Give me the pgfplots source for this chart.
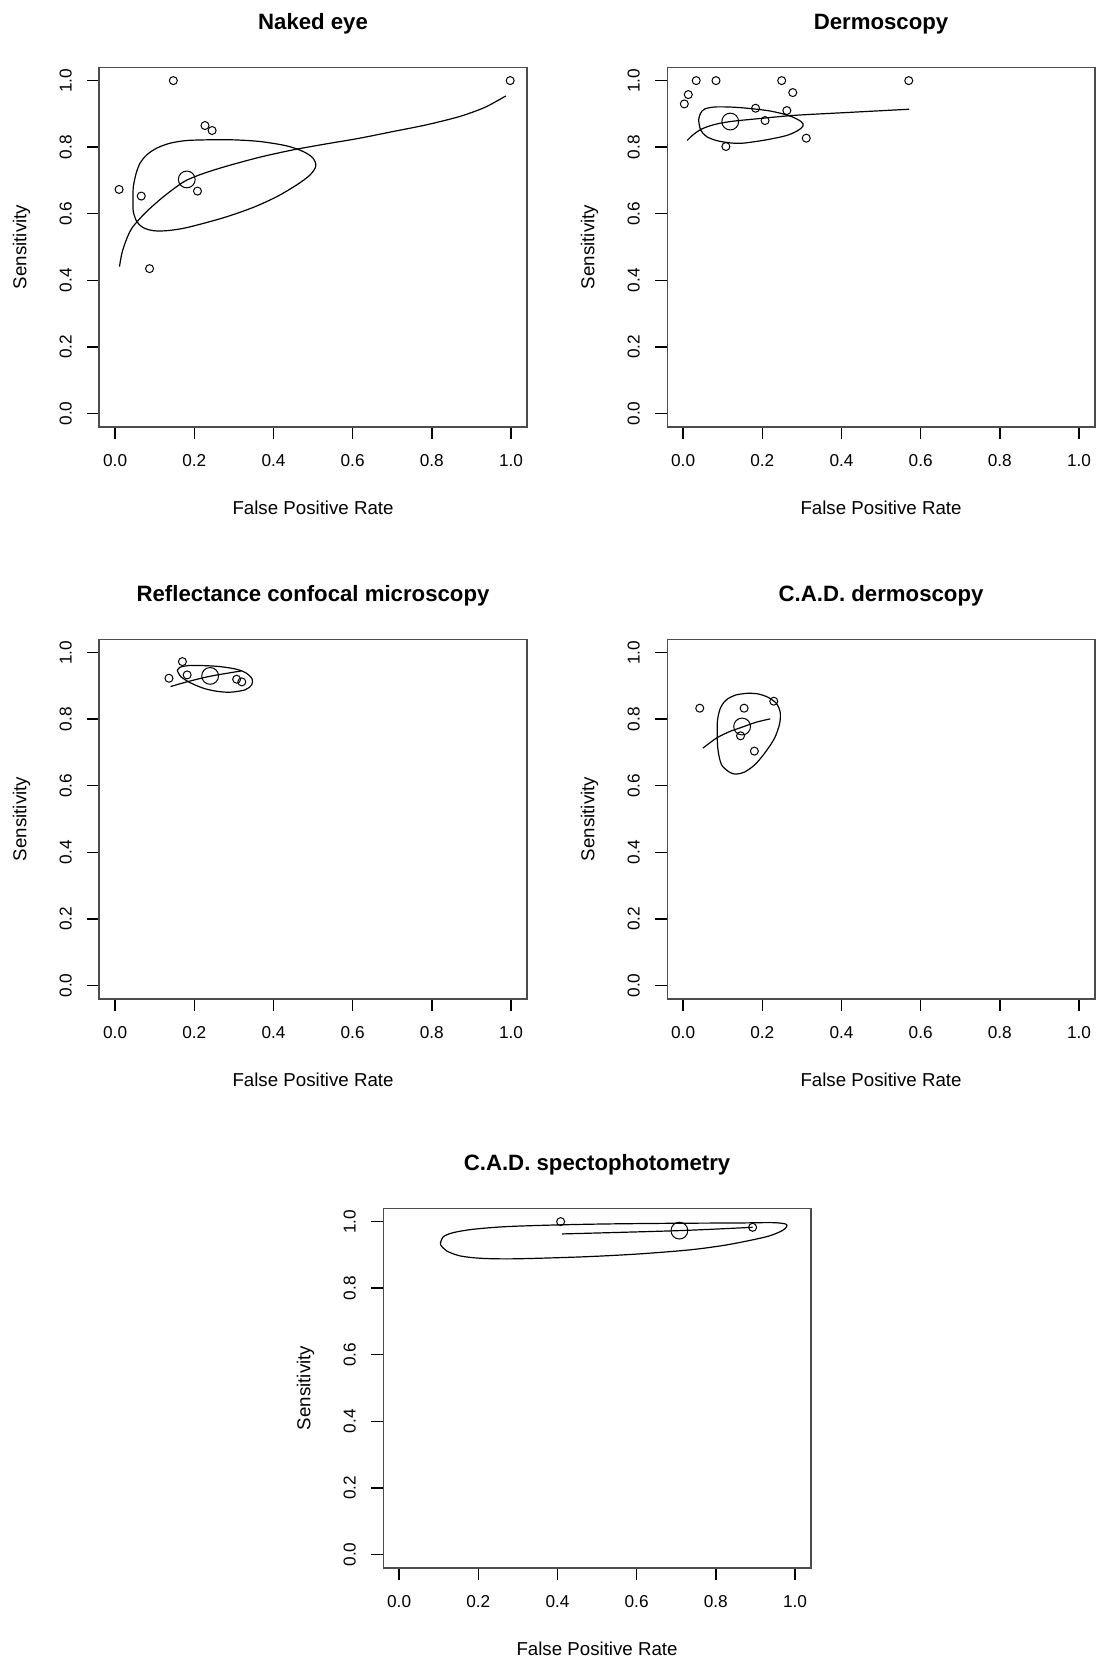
\documentclass[border=0pt]{standalone}
\usepackage{fontspec}
\setmainfont{Liberation Sans}
\usepackage{pgfplots}
\pgfplotsset{compat=1.18}

\pgfplotsset{
  rplot/.style={
    scale only axis, width=213.75pt, height=179.7pt,
    xmin=-0.04, xmax=1.04, ymin=-0.04, ymax=1.04,
    xtick={0,0.2,0.4,0.6,0.8,1}, ytick={0,0.2,0.4,0.6,0.8,1},
    xticklabels={0.0,0.2,0.4,0.6,0.8,1.0},
    yticklabels={0.0,0.2,0.4,0.6,0.8,1.0},
    tick pos=left, tick align=outside, major tick length=6pt,
    axis line style={line width=0.8pt, black!70},
    major tick style={line width=0.7pt, black},
    xticklabel style={font=\fontsize{8.6}{10}\selectfont, anchor=base, inner sep=0pt},
    yticklabel style={font=\fontsize{8.6}{10}\selectfont, rotate=90, anchor=base, inner sep=0pt},
    xticklabel shift=14pt, yticklabel shift=7.8pt,
    xlabel={False Positive Rate}, ylabel={Sensitivity},
    label style={font=\fontsize{9.35}{11}\selectfont, inner sep=0pt},
    xlabel style={at={(axis description cs:0.5,-0.2432)}, anchor=base},
    ylabel style={at={(axis description cs:-0.1708,0.5)}, anchor=base, rotate=0},
    title style={font=\fontsize{11.1}{13}\selectfont\bfseries, at={(axis description cs:0.5,1.0707)}, anchor=base, inner sep=0pt},
    clip=false,
  },
  study/.style={only marks, mark=o, mark size=2pt, mark options={line width=0.5pt, black}},
  summ/.style={only marks, mark=o, mark size=4.2pt, mark options={line width=0.5pt, black}},
  sroc/.style={no marks, smooth, line width=0.6pt, black},
  conf/.style={no marks, smooth, line width=0.6pt, black},
}

\begin{document}
\begin{tikzpicture}
\useasboundingbox (0,0) rectangle (549.5pt,-829.5pt);

% Panel 1: Naked eye
\begin{axis}[rplot, title={Naked eye}, at={(49.65pt,-33.65pt)}, anchor=north west]
\addplot[study] coordinates {(0.147,1.0)(0.998,1.0)(0.227,0.865)(0.245,0.850)(0.010,0.673)(0.066,0.653)(0.208,0.668)(0.087,0.435)};
\addplot[summ] coordinates {(0.181,0.703)};
\addplot[sroc] coordinates {(0.011,0.441)(0.017,0.481)(0.028,0.521)(0.042,0.556)(0.063,0.586)(0.088,0.616)(0.122,0.651)(0.155,0.681)(0.181,0.701)(0.223,0.721)(0.282,0.743)(0.366,0.770)(0.450,0.792)(0.534,0.810)(0.618,0.827)(0.702,0.847)(0.786,0.867)(0.870,0.892)(0.929,0.917)(0.962,0.937)(0.987,0.954)};
\addplot[conf] coordinates {(0.231,0.822)(0.181,0.820)(0.139,0.812)(0.105,0.797)(0.080,0.777)(0.063,0.752)(0.053,0.721)(0.046,0.681)(0.045,0.641)(0.046,0.606)(0.055,0.576)(0.071,0.558)(0.097,0.549)(0.130,0.549)(0.172,0.556)(0.223,0.571)(0.282,0.591)(0.349,0.619)(0.408,0.651)(0.458,0.686)(0.492,0.716)(0.507,0.743)(0.500,0.767)(0.475,0.787)(0.433,0.804)(0.366,0.817)(0.298,0.822)(0.231,0.822)};
\end{axis}

% Panel 2: Dermoscopy
\begin{axis}[rplot, title={Dermoscopy}, at={(333.65pt,-33.65pt)}, anchor=north west]
\addplot[study] coordinates {(0.003,0.930)(0.013,0.958)(0.033,1.0)(0.083,1.0)(0.249,1.0)(0.277,0.964)(0.183,0.917)(0.262,0.910)(0.207,0.880)(0.311,0.827)(0.108,0.802)(0.570,1.0)};
\addplot[summ] coordinates {(0.119,0.877)};
\addplot[sroc] coordinates {(0.010,0.820)(0.025,0.837)(0.046,0.854)(0.076,0.867)(0.119,0.877)(0.202,0.887)(0.286,0.896)(0.412,0.904)(0.571,0.914)};
\addplot[conf] coordinates {(0.039,0.882)(0.044,0.902)(0.055,0.915)(0.084,0.921)(0.143,0.919)(0.218,0.909)(0.269,0.894)(0.298,0.877)(0.303,0.864)(0.290,0.850)(0.261,0.835)(0.210,0.822)(0.151,0.812)(0.118,0.813)(0.084,0.820)(0.059,0.832)(0.044,0.852)(0.039,0.882)};
\end{axis}

% Panel 3: Reflectance confocal microscopy
\begin{axis}[rplot, title={Reflectance confocal microscopy}, at={(49.65pt,-319.65pt)}, anchor=north west]
\addplot[study] coordinates {(0.136,0.923)(0.170,0.973)(0.182,0.933)(0.307,0.920)(0.320,0.912)};
\addplot[summ] coordinates {(0.240,0.930)};
\addplot[sroc] coordinates {(0.140,0.898)(0.181,0.912)(0.240,0.929)(0.319,0.945)};
\addplot[conf] coordinates {(0.157,0.946)(0.164,0.956)(0.185,0.961)(0.223,0.961)(0.265,0.958)(0.307,0.950)(0.332,0.938)(0.346,0.921)(0.345,0.903)(0.328,0.888)(0.290,0.881)(0.256,0.884)(0.223,0.893)(0.189,0.910)(0.166,0.928)(0.157,0.946)};
\end{axis}

% Panel 4: C.A.D. dermoscopy
\begin{axis}[rplot, title={C.A.D. dermoscopy}, at={(333.65pt,-319.65pt)}, anchor=north west]
\addplot[study] coordinates {(0.042,0.833)(0.154,0.833)(0.229,0.854)(0.145,0.750)(0.180,0.704)};
\addplot[summ] coordinates {(0.149,0.778)};
\addplot[sroc] coordinates {(0.050,0.713)(0.084,0.743)(0.118,0.763)(0.149,0.776)(0.185,0.791)(0.220,0.801)};
\addplot[conf] coordinates {(0.164,0.878)(0.134,0.873)(0.109,0.858)(0.094,0.833)(0.087,0.798)(0.086,0.758)(0.088,0.708)(0.097,0.663)(0.118,0.640)(0.134,0.635)(0.155,0.641)(0.181,0.663)(0.206,0.698)(0.231,0.743)(0.244,0.788)(0.245,0.823)(0.235,0.848)(0.214,0.866)(0.189,0.876)(0.164,0.878)};
\end{axis}

% Panel 5: C.A.D. spectophotometry
\begin{axis}[rplot, title={C.A.D. spectophotometry}, at={(191.65pt,-604.15pt)}, anchor=north west]
\addplot[study] coordinates {(0.408,1.0)(0.893,0.983)};
\addplot[summ] coordinates {(0.708,0.973)};
\addplot[sroc] coordinates {(0.412,0.963)(0.708,0.973)(0.893,0.983)};
\addplot[conf] coordinates {(0.105,0.938)(0.112,0.955)(0.137,0.967)(0.187,0.977)(0.271,0.985)(0.397,0.990)(0.523,0.993)(0.691,0.995)(0.859,0.996)(0.943,0.997)(0.976,0.993)(0.979,0.985)(0.968,0.973)(0.935,0.957)(0.884,0.943)(0.817,0.928)(0.733,0.915)(0.607,0.903)(0.481,0.895)(0.355,0.890)(0.271,0.888)(0.204,0.890)(0.154,0.897)(0.120,0.912)(0.105,0.930)(0.105,0.938)};
\end{axis}
\end{tikzpicture}
\end{document}
